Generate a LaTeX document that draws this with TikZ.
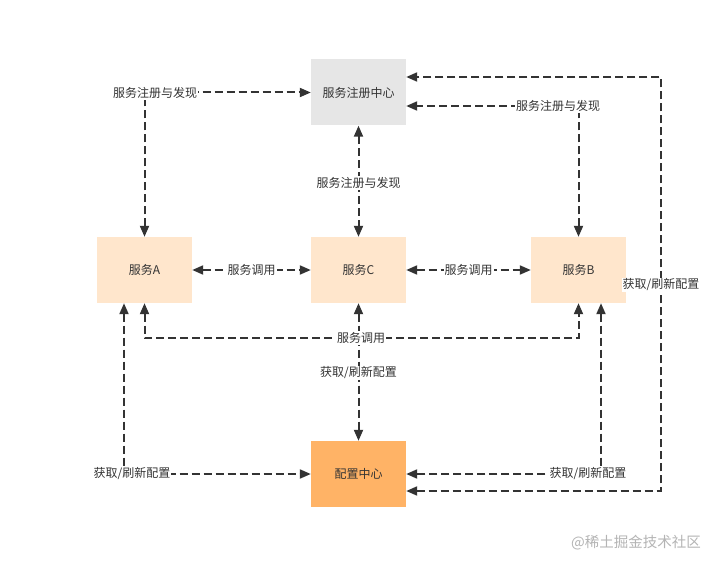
\documentclass[tikz,border=0pt]{standalone}
\usepackage{fontspec}
\setmainfont{Noto Sans CJK SC}
\usetikzlibrary{arrows.meta,calc}
\definecolor{txt}{HTML}{333333}
\definecolor{ln}{HTML}{333333}
\definecolor{regfill}{HTML}{E6E6E6}
\definecolor{svcfill}{HTML}{FFE6CC}
\definecolor{cfgfill}{HTML}{FFB366}
\definecolor{wm}{HTML}{B4B4B4}
\begin{document}
\begin{tikzpicture}[x=1pt,y=-1pt,
  box/.style={draw=none, minimum width=95pt, minimum height=66pt, inner sep=0pt, text=txt, font=\fontsize{12}{14}\selectfont},
  conn/.style={draw=ln, line width=2pt, dash pattern=on 8pt off 4pt,
    {Triangle[length=11pt,width=9pt]}-{Triangle[length=11pt,width=9pt]}},
  lbl/.style={fill=white, inner sep=1pt, text=txt, font=\fontsize{12}{14}\selectfont}]
\fill[white] (0,0) rectangle (720,567);
\useasboundingbox (0,0) rectangle (720,567);

\node[box, fill=regfill] (reg) at (358.5,92.5) {服务注册中心};
\node[box, fill=svcfill] (A) at (144.5,270) {服务A};
\node[box, fill=svcfill] (C) at (358.5,270) {服务C};
\node[box, fill=svcfill] (B) at (578.5,270) {服务B};
\node[box, fill=cfgfill] (cfg) at (358.5,474) {配置中心};

\coordinate (regE1) at ($(reg.east)+(0,-15.5)$);
\coordinate (regE2) at ($(reg.east)+(0,13.5)$);
\coordinate (cfgE2) at ($(cfg.east)+(0,17)$);
\coordinate (loopB) at (661,491);
\coordinate (loopT) at (661,77);
\coordinate (Abl) at ($(A.south)+(-20.5,0)$);
\coordinate (Bbr) at ($(B.south)+(22.5,0)$);
\coordinate (lowA) at ($(A.south)+(0,35)$);

\draw[conn] (A.north) |- (reg.west);
\draw[conn] (reg.south) -- (C.north);
\draw[conn] (B.north) |- (regE2);
\draw[conn] (cfgE2) -- (loopB) -- (loopT) -- (regE1);
\draw[conn] (A.east) -- (C.west);
\draw[conn] (C.east) -- (B.west);
\draw[conn] (A.south) -- (lowA) -| (B.south);
\draw[conn] (C.south) -- (cfg.north);
\draw[conn] (Abl) |- (cfg.west);
\draw[conn] (Bbr) |- (cfg.east);

\node[lbl] (l1) at (155,93) {服务注册与发现};
\node[lbl] (l2) at (358.5,183) {服务注册与发现};
\node[lbl] (l3) at (558,106) {服务注册与发现};
\node[lbl] (l4) at (661,285) {获取/刷新配置};
\node[lbl] (l5) at (251.5,270) {服务调用};
\node[lbl] (l6) at (468.5,270) {服务调用};
\node[lbl] (l7) at (361,338) {服务调用};
\node[lbl] (l8) at (358.5,373) {获取/刷新配置};
\node[lbl] (l9) at (132,474) {获取/刷新配置};
\node[lbl] (l10) at (588,474) {获取/刷新配置};

\node[text=wm, font=\fontsize{14.5}{16}\selectfont, inner sep=0pt] (wmk) at (636,543) {@稀土掘金技术社区};
\end{tikzpicture}
\end{document}
